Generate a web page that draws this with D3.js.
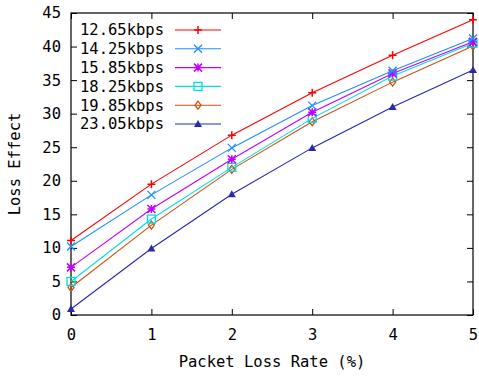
<!DOCTYPE html>
<html>
<head>
<meta charset="utf-8">
<script src="https://cdn.jsdelivr.net/npm/d3@7"></script>
<style>
  body { margin: 0; background: #fff; }
  text { font-family: "DejaVu Sans Mono", monospace; font-size: 15.5px; fill: #000; }
</style>
</head>
<body>
<svg id="chart" width="479" height="376"></svg>
<script>
// data
const lossRates = [0, 1, 2, 3, 4, 5];
const seriesNames = ["12.65kbps", "14.25kbps", "15.85kbps", "18.25kbps", "19.85kbps", "23.05kbps"];
const s1265 = [11.1, 19.5, 26.8, 33.1, 38.7, 44.0];
const s1425 = [10.2, 17.9, 24.9, 31.2, 36.4, 41.2];
const s1585 = [7.1, 15.8, 23.2, 30.2, 36.0, 40.7];
const s1825 = [5.0, 14.3, 22.0, 29.3, 35.6, 40.5];
const s1985 = [4.1, 13.4, 21.7, 28.8, 34.7, 40.1];
const s2305 = [0.9, 9.9, 18.0, 24.9, 31.0, 36.5];
const yTicks = [0, 5, 10, 15, 20, 25, 30, 35, 40, 45];
const xTicks = [0, 1, 2, 3, 4, 5];

const allSeries = [s1265, s1425, s1585, s1825, s1985, s2305];
const colors = ["#ff0000", "#1e8fff", "#c000ff", "#00e0e0", "#d05010", "#2828b0"];
const markers = ["plus", "cross", "star", "square", "diamond", "triangle"];

const margin = {top: 13, right: 6, bottom: 61, left: 71};
const width = 479, height = 376;
const innerW = width - margin.left - margin.right;
const innerH = height - margin.top - margin.bottom;

const svg = d3.select("#chart");
const g = svg.append("g").attr("transform", `translate(${margin.left},${margin.top})`);

const x = d3.scaleLinear().domain([0, 5]).range([0, innerW]);
const y = d3.scaleLinear().domain([0, 45]).range([innerH, 0]);

// ticks on all four sides, pointing in
const tickLen = 6;
g.append("g").attr("transform", `translate(0,${innerH})`)
  .call(d3.axisBottom(x).tickValues(xTicks).tickSize(-tickLen).tickPadding(14).tickFormat(d3.format("d")))
  .call(a => a.select(".domain").remove());
g.append("g")
  .call(d3.axisTop(x).tickValues(xTicks).tickSize(-tickLen).tickFormat(""))
  .call(a => a.select(".domain").remove());
g.append("g")
  .call(d3.axisLeft(y).tickValues(yTicks).tickSize(-tickLen).tickPadding(10).tickFormat(d3.format("d")))
  .call(a => a.select(".domain").remove());
g.append("g").attr("transform", `translate(${innerW},0)`)
  .call(d3.axisRight(y).tickValues(yTicks).tickSize(-tickLen).tickFormat(""))
  .call(a => a.select(".domain").remove());

g.selectAll(".tick line").attr("stroke", "#000");
g.selectAll(".tick text").style("font-family", "DejaVu Sans Mono, monospace").style("font-size", "15.5px");

g.append("rect")
  .attr("width", innerW).attr("height", innerH)
  .attr("fill", "none").attr("stroke", "#000").attr("stroke-width", 1.2);

function drawMarker(sel, type, color, cx, cy) {
  const r = 4;
  if (type === "plus") {
    sel.append("path").attr("d", `M${cx - r},${cy}H${cx + r}M${cx},${cy - r}V${cy + r}`)
      .attr("stroke", color).attr("stroke-width", 1.5).attr("fill", "none");
  } else if (type === "cross") {
    sel.append("path").attr("d", `M${cx - r},${cy - r}L${cx + r},${cy + r}M${cx - r},${cy + r}L${cx + r},${cy - r}`)
      .attr("stroke", color).attr("stroke-width", 1.3).attr("fill", "none");
  } else if (type === "star") {
    sel.append("path").attr("d", `M${cx - r},${cy}H${cx + r}M${cx},${cy - r}V${cy + r}M${cx - r},${cy - r}L${cx + r},${cy + r}M${cx - r},${cy + r}L${cx + r},${cy - r}`)
      .attr("stroke", color).attr("stroke-width", 1.5).attr("fill", "none");
  } else if (type === "square") {
    sel.append("rect").attr("x", cx - r).attr("y", cy - r).attr("width", 2 * r).attr("height", 2 * r)
      .attr("stroke", color).attr("stroke-width", 1.3).attr("fill", "none");
  } else if (type === "diamond") {
    sel.append("path").attr("d", `M${cx},${cy - r}L${cx + 3},${cy}L${cx},${cy + r}L${cx - 3},${cy}Z`)
      .attr("stroke", color).attr("stroke-width", 1.3).attr("fill", "none");
  } else if (type === "triangle") {
    sel.append("path").attr("d", `M${cx},${cy - r}L${cx + r},${cy + 3}L${cx - r},${cy + 3}Z`)
      .attr("fill", color);
  }
}

const line = d3.line().x((d, i) => x(lossRates[i])).y(d => y(d));

// draw in reverse so the first series is on top
for (let k = allSeries.length - 1; k >= 0; k--) {
  const vals = allSeries[k];
  const sg = g.append("g");
  sg.append("path").datum(vals)
    .attr("fill", "none").attr("stroke", colors[k]).attr("stroke-width", 1.1)
    .attr("d", line);
  vals.forEach((v, i) => drawMarker(sg, markers[k], colors[k], x(lossRates[i]), y(v)));
}

// legend (no background box, the frame ticks show through)
const legend = svg.append("g");
seriesNames.forEach((name, k) => {
  const ly = 30 + k * 18.8;
  legend.append("text").attr("x", 80).attr("y", ly).attr("dy", "0.35em").text(name);
  legend.append("line").attr("x1", 175).attr("x2", 221).attr("y1", ly).attr("y2", ly)
    .attr("stroke", colors[k]).attr("stroke-width", 1.1);
  drawMarker(legend, markers[k], colors[k], 198, ly);
});

// axis titles
svg.append("text")
  .attr("x", margin.left + innerW / 2).attr("y", 362)
  .attr("text-anchor", "middle").attr("dy", "0.35em")
  .text("Packet Loss Rate (%)");
svg.append("text")
  .attr("transform", `translate(15,${margin.top + innerH / 2}) rotate(-90)`)
  .attr("text-anchor", "middle").attr("dy", "0.35em")
  .text("Loss Effect");
</script>
</body>
</html>
